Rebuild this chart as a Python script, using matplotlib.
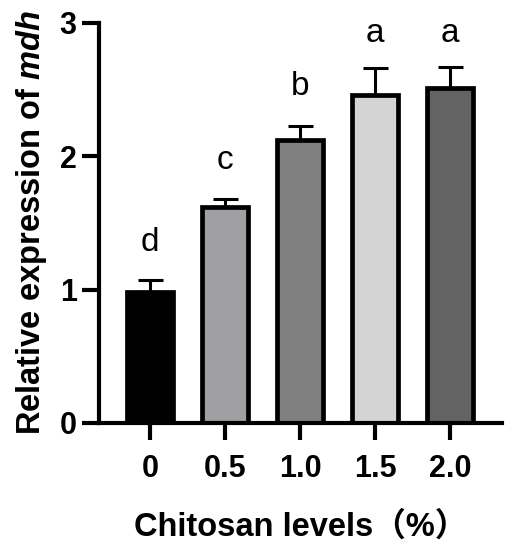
import matplotlib.pyplot as plt
import numpy as np

# Dados
levels = ['0', '0.5', '1.0', '1.5', '2.0']
means = [0.98, 1.62, 2.12, 2.46, 2.51]
errs = [0.09, 0.06, 0.11, 0.20, 0.16]
letters = ['d', 'c', 'b', 'a', 'a']
letter_y = [1.35, 1.97, 2.52, 2.92, 2.92]
colors = ['#000000', '#a0a0a4', '#808080', '#d4d4d4', '#636363']

plt.rcParams['font.family'] = ['Liberation Sans', 'Noto Sans CJK SC']
plt.rcParams['mathtext.fontset'] = 'custom'
plt.rcParams['mathtext.it'] = 'Liberation Sans:italic:bold'

fig = plt.figure(figsize=(5.05, 5.47), dpi=100)
ax = fig.add_axes([0.196, 0.2267, 0.798, 0.7313])

x = np.arange(len(levels))
ax.errorbar(x, means, yerr=[np.zeros(len(errs)), errs], fmt='none',
            ecolor='black', elinewidth=2.2, capsize=9, capthick=2.2, zorder=1)
ax.bar(x, means, width=0.61, color=colors, edgecolor='black', linewidth=3.4, zorder=2)

for xi, lab, ly in zip(x, letters, letter_y):
    ax.text(xi, ly, lab, ha='center', va='center', fontsize=24)

ax.set_xlim(-0.68, 4.69)
ax.set_ylim(0, 3)
ax.set_yticks([0, 1, 2, 3])
ax.set_xticks(x)
ax.set_xticklabels(levels)

for s in ['top', 'right']:
    ax.spines[s].set_visible(False)
for s in ['left', 'bottom']:
    ax.spines[s].set_linewidth(3)

ax.tick_params(axis='both', width=3, length=12, labelsize=22, pad=4)
for t in ax.get_xticklabels() + ax.get_yticklabels():
    t.set_fontweight('bold')
ax.tick_params(axis='x', pad=10)

ax.set_xlabel('Chitosan levels（%）', fontsize=23.5, fontweight='bold', labelpad=20)
ax.set_ylabel(r'Relative expression of $\it{mdh}$', fontsize=23.5, fontweight='bold', labelpad=8)

plt.savefig('out.png', dpi=100)
